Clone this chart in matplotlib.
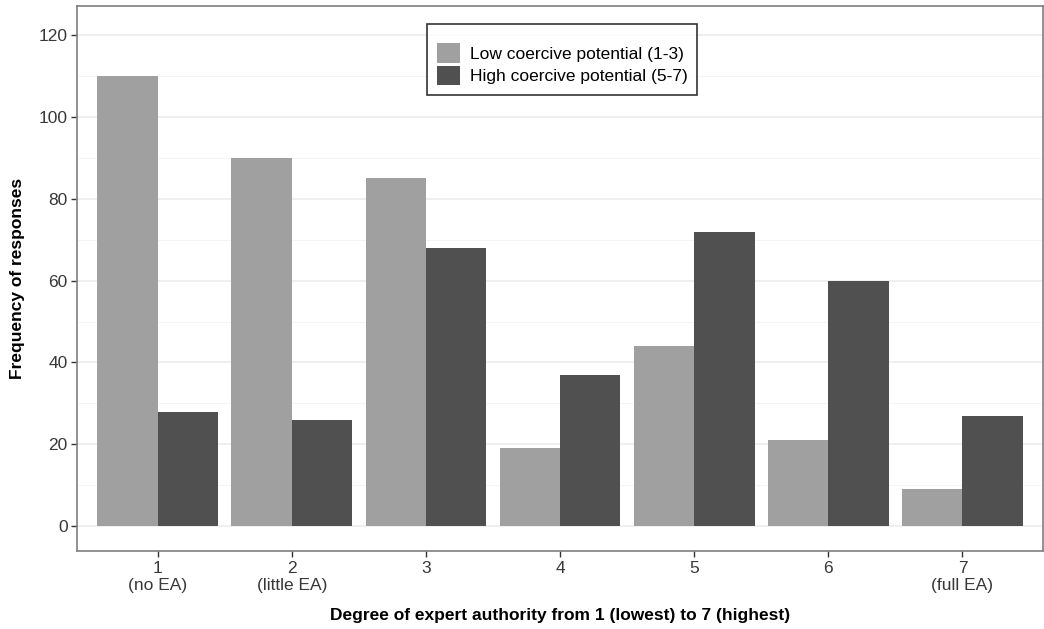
import numpy as np
import matplotlib.pyplot as plt
from matplotlib.ticker import MultipleLocator

plt.rcParams['font.family'] = ['Liberation Sans', 'DejaVu Sans']

# Data
categories = [1, 2, 3, 4, 5, 6, 7]
tick_labels = ['1\n(no EA)', '2\n(little EA)', '3', '4', '5', '6', '7\n(full EA)']
low_vals = [110, 90, 85, 19, 44, 21, 9]
high_vals = [28, 26, 68, 37, 72, 60, 27]

fig = plt.figure(figsize=(10.44, 6.29), dpi=100)
ax = fig.add_axes([0.074, 0.124, 0.925, 0.866])

x = np.array(categories)
w = 0.45
ax.bar(x - w / 2, low_vals, width=w, color='#a0a0a0', label='Low coercive potential (1-3)', zorder=3)
ax.bar(x + w / 2, high_vals, width=w, color='#505050', label='High coercive potential (5-7)', zorder=3)

ax.set_xlim(0.4, 7.6)
ax.set_ylim(-6.1, 127.1)
ax.yaxis.set_major_locator(MultipleLocator(20))
ax.yaxis.set_minor_locator(MultipleLocator(10))
ax.set_xticks(x)
ax.set_xticklabels(tick_labels)

ax.grid(axis='y', which='major', color='#ebebeb', linewidth=1.1, zorder=0)
ax.grid(axis='y', which='minor', color='#f2f2f2', linewidth=0.6, zorder=0)
ax.tick_params(axis='both', which='major', labelsize=12.5, labelcolor='#383838',
               color='#333333', length=4, width=1, pad=3)
ax.tick_params(axis='y', which='minor', length=0)
for s in ax.spines.values():
    s.set_color('#7f7f7f')
    s.set_linewidth(1.2)

ax.set_xlabel('Degree of expert authority from 1 (lowest) to 7 (highest)',
              fontsize=12.5, fontweight='bold', labelpad=11)
ax.set_ylabel('Frequency of responses', fontsize=12.5, fontweight='bold', labelpad=10)

# empty small title gives the extra space above the keys, as in the original
leg = ax.legend(loc='upper center', bbox_to_anchor=(0.502, 0.984), fontsize=12.5,
                title=' ', title_fontsize=5,
                frameon=True, fancybox=False, edgecolor='black',
                handlelength=1.35, handleheight=1.35, borderpad=0.55,
                labelspacing=0.17, handletextpad=0.55)
leg.get_frame().set_linewidth(1.2)

fig.savefig('out.png', dpi=100)
